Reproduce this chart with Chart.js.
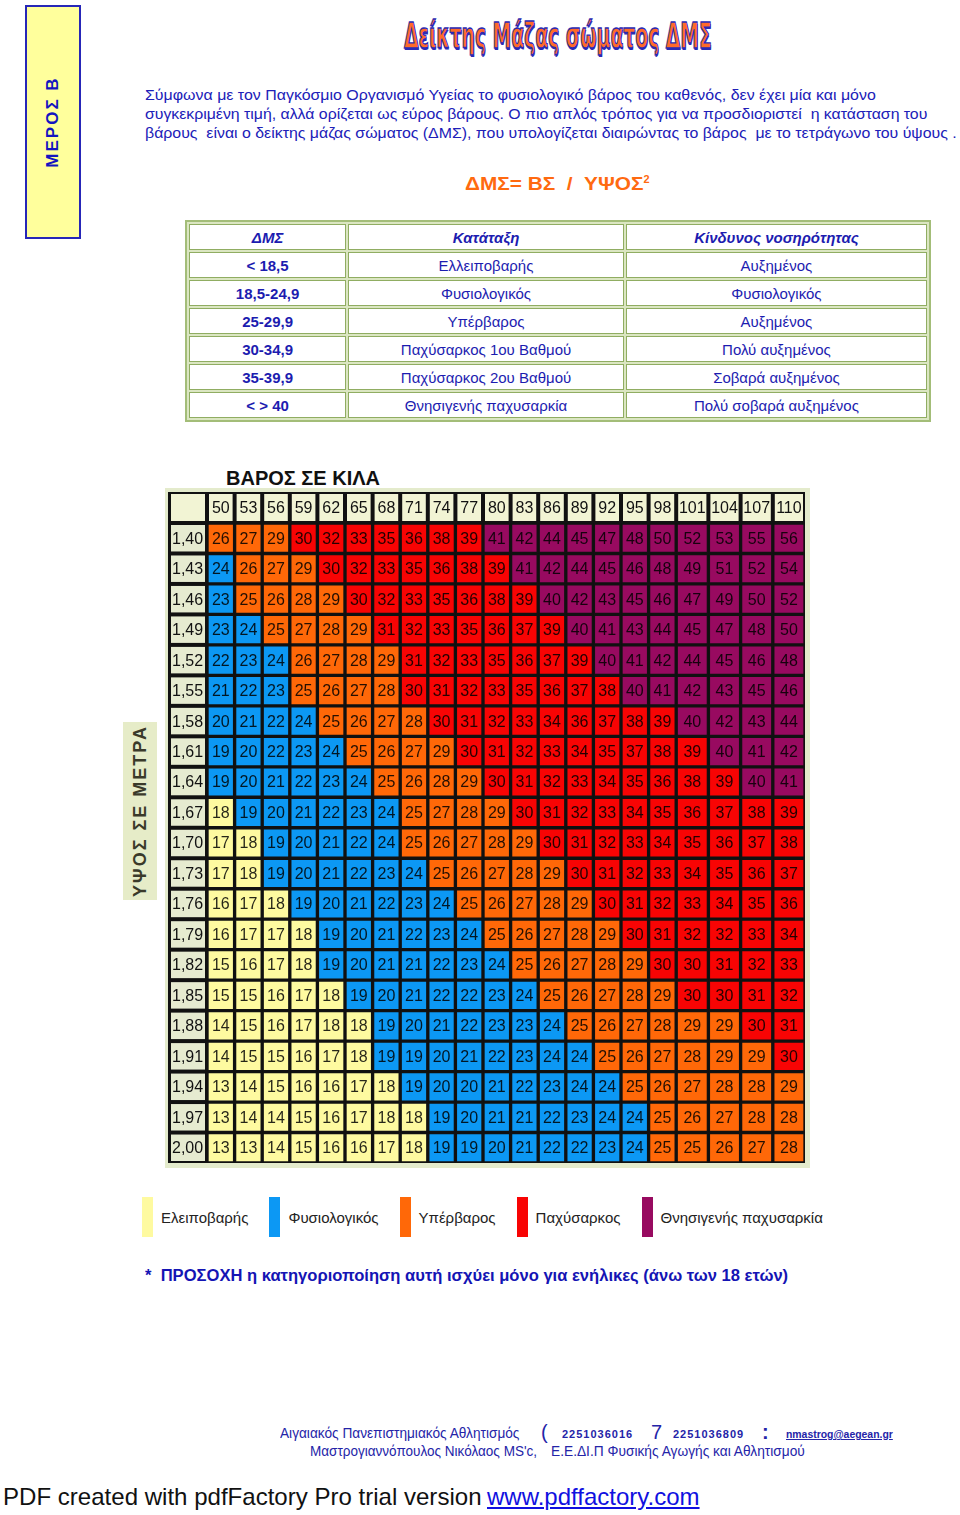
<!DOCTYPE html>
<html>
<head>
<meta charset="utf-8">
<script src="https://cdn.jsdelivr.net/npm/chart.js@4.4.0/dist/chart.umd.min.js"></script>
<style>
body{margin:0;width:960px;height:1515px;background:#fff;position:relative;overflow:hidden;font-family:"Liberation Sans",Arial,sans-serif;}
.abs{position:absolute;white-space:nowrap;}
.fit{display:inline-block;transform-origin:0 50%;}
#meros{left:25px;top:5px;width:52px;height:230px;background:#ffff9c;border:2px solid #2626b8;}
#meros span,#ypsos span{position:absolute;left:50%;top:50%;transform:translate(-50%,-50%) rotate(-90deg);font-weight:bold;white-space:nowrap;}
#meros span{color:#1414c0;font-size:17px;letter-spacing:2px;}
#ypsos{left:123px;top:722px;width:34px;height:178px;background:#e6ecc8;}
#ypsos span{color:#3a3a2a;font-size:18px;letter-spacing:2px;}
#title{left:404px;top:14px;font-family:"DejaVu Sans Condensed","DejaVu Sans",sans-serif;font-weight:bold;font-size:36px;line-height:44px;color:#ff6a2a;-webkit-text-stroke:1.3px #2a2ab4;text-shadow:1px 2px 0 #2a2ab4;}
.par{left:145px;font-size:15px;line-height:19px;color:#2020b8;}
#formula{left:465px;top:168px;font-size:19px;line-height:24px;font-weight:bold;color:#ff6a10;}
#formula sup{font-size:10px;}
#cls{position:absolute;left:185px;top:220px;width:746px;border-collapse:separate;border-spacing:2px;border:2px solid #a3bd78;background:#dbe6c2;}
#cls td,#cls th{background:#fff;border:1px solid #90ad62;height:24px;padding:0;text-align:center;color:#1c1cb0;font-size:15px;font-weight:normal;}
#cls th{font-style:italic;font-weight:bold;}
#cls td:first-child{font-weight:bold;}
#wtitle{left:226px;top:466px;font-size:20px;line-height:24px;font-weight:bold;color:#111;}
#grid{position:absolute;left:165px;top:488px;}
#legend{position:absolute;left:142px;top:1197px;display:flex;align-items:center;}
#legend .sw{width:11px;height:40px;margin-right:8px;}
#legend .lb{font-size:15px;color:#222;margin-right:21px;}
#note{left:145px;top:1266px;font-size:16px;line-height:20px;font-weight:bold;color:#1414b4;}
.ft{font-size:14px;line-height:18px;color:#2424a8;}
.ph{font-size:11px;font-weight:bold;letter-spacing:1px;color:#2424a8;line-height:18px;}
#pdf{left:3px;top:1483px;font-size:24px;line-height:28px;color:#111;}
#pdflink{left:487px;top:1483px;font-size:24px;line-height:28px;color:#1010e0;text-decoration:underline;}
</style>
</head>
<body>
<div id="meros" class="abs"><span>ΜΕΡΟΣ Β</span></div>
<div id="title" class="abs fit" data-w="308">Δείκτης Μάζας σώματος ΔΜΣ</div>
<div class="abs par fit" style="top:85px" data-w="731">Σύμφωνα με τον Παγκόσμιο Οργανισμό Υγείας το φυσιολογικό βάρος του καθενός, δεν έχει μία και μόνο</div>
<div class="abs par fit" style="top:104px" data-w="782">συγκεκριμένη τιμή, αλλά ορίζεται ως εύρος βάρους. Ο πιο απλός τρόπος για να προσδιοριστεί &nbsp;η κατάσταση του</div>
<div class="abs par fit" style="top:123px" data-w="812">βάρους &nbsp;είναι ο δείκτης μάζας σώματος (ΔΜΣ), που υπολογίζεται διαιρώντας το βάρος &nbsp;με το τετράγωνο του ύψους .</div>
<div id="formula" class="abs fit" data-w="185">ΔΜΣ= ΒΣ &nbsp;/ &nbsp;ΥΨΟΣ<sup>2</sup></div>
<table id="cls"></table>
<div id="wtitle" class="abs">ΒΑΡΟΣ ΣΕ ΚΙΛΑ</div>
<div id="ypsos" class="abs"><span>ΥΨΟΣ ΣΕ ΜΕΤΡΑ</span></div>
<canvas id="grid" width="645" height="680"></canvas>
<div id="legend"></div>
<div id="note" class="abs fit" data-w="643">* &nbsp;ΠΡΟΣΟΧΗ η κατηγοριοποίηση αυτή ισχύει μόνο για ενήλικες (άνω των 18 ετών)</div>
<div class="abs ft fit" style="left:280px;top:1424px" data-w="239">Αιγαιακός Πανεπιστημιακός Αθλητισμός</div>
<div class="abs ft" style="left:541px;top:1420px;font-size:20px;line-height:24px">(</div>
<div class="abs ph fit" style="left:562px;top:1425px" data-w="71">2251036016</div>
<div class="abs ft" style="left:651px;top:1420px;font-size:20px;line-height:24px">7</div>
<div class="abs ph fit" style="left:673px;top:1425px" data-w="71">2251036809</div>
<div class="abs ft" style="left:762px;top:1420px;font-size:20px;line-height:24px;font-weight:bold">:</div>
<div class="abs ph fit" style="left:786px;top:1425px;text-decoration:underline;letter-spacing:0" data-w="107">nmastrog@aegean.gr</div>
<div class="abs ft fit" style="left:310px;top:1442px" data-w="227">Μαστρογιαννόπουλος Νικόλαος MS'c,</div>
<div class="abs ft fit" style="left:551px;top:1442px" data-w="254">Ε.Ε.ΔΙ.Π Φυσικής Αγωγής και Αθλητισμού</div>
<div id="pdf" class="abs fit" data-w="479">PDF created with pdfFactory Pro trial version</div>
<div id="pdflink" class="abs fit" data-w="213">www.pdffactory.com</div>

<script>
// ---------- datos del cuadro de clasificación ----------
const bmiRanges = ['< 18,5', '18,5-24,9', '25-29,9', '30-34,9', '35-39,9', '< > 40'];
const bmiClasses = ['Ελλειποβαρής', 'Φυσιολογικός', 'Υπέρβαρος', 'Παχύσαρκος 1ου Βαθμού', 'Παχύσαρκος 2ου Βαθμού', 'Θνησιγενής παχυσαρκία'];
const bmiRisk = ['Αυξημένος', 'Φυσιολογικός', 'Αυξημένος', 'Πολύ αυξημένος', 'Σοβαρά αυξημένος', 'Πολύ σοβαρά αυξημένος'];

// ---------- datos de la tabla de colores ----------
const weights = ['50', '53', '56', '59', '62', '65', '68', '71', '74', '77', '80', '83', '86', '89', '92', '95', '98', '101', '104', '107', '110'];
const heights = ['1,40', '1,43', '1,46', '1,49', '1,52', '1,55', '1,58', '1,61', '1,64', '1,67', '1,70', '1,73', '1,76', '1,79', '1,82', '1,85', '1,88', '1,91', '1,94', '1,97', '2,00'];
const bmiRows = [
    [26, 27, 29, 30, 32, 33, 35, 36, 38, 39, 41, 42, 44, 45, 47, 48, 50, 52, 53, 55, 56],
    [24, 26, 27, 29, 30, 32, 33, 35, 36, 38, 39, 41, 42, 44, 45, 46, 48, 49, 51, 52, 54],
    [23, 25, 26, 28, 29, 30, 32, 33, 35, 36, 38, 39, 40, 42, 43, 45, 46, 47, 49, 50, 52],
    [23, 24, 25, 27, 28, 29, 31, 32, 33, 35, 36, 37, 39, 40, 41, 43, 44, 45, 47, 48, 50],
    [22, 23, 24, 26, 27, 28, 29, 31, 32, 33, 35, 36, 37, 39, 40, 41, 42, 44, 45, 46, 48],
    [21, 22, 23, 25, 26, 27, 28, 30, 31, 32, 33, 35, 36, 37, 38, 40, 41, 42, 43, 45, 46],
    [20, 21, 22, 24, 25, 26, 27, 28, 30, 31, 32, 33, 34, 36, 37, 38, 39, 40, 42, 43, 44],
    [19, 20, 22, 23, 24, 25, 26, 27, 29, 30, 31, 32, 33, 34, 35, 37, 38, 39, 40, 41, 42],
    [19, 20, 21, 22, 23, 24, 25, 26, 28, 29, 30, 31, 32, 33, 34, 35, 36, 38, 39, 40, 41],
    [18, 19, 20, 21, 22, 23, 24, 25, 27, 28, 29, 30, 31, 32, 33, 34, 35, 36, 37, 38, 39],
    [17, 18, 19, 20, 21, 22, 24, 25, 26, 27, 28, 29, 30, 31, 32, 33, 34, 35, 36, 37, 38],
    [17, 18, 19, 20, 21, 22, 23, 24, 25, 26, 27, 28, 29, 30, 31, 32, 33, 34, 35, 36, 37],
    [16, 17, 18, 19, 20, 21, 22, 23, 24, 25, 26, 27, 28, 29, 30, 31, 32, 33, 34, 35, 36],
    [16, 17, 17, 18, 19, 20, 21, 22, 23, 24, 25, 26, 27, 28, 29, 30, 31, 32, 32, 33, 34],
    [15, 16, 17, 18, 19, 20, 21, 21, 22, 23, 24, 25, 26, 27, 28, 29, 30, 30, 31, 32, 33],
    [15, 15, 16, 17, 18, 19, 20, 21, 22, 22, 23, 24, 25, 26, 27, 28, 29, 30, 30, 31, 32],
    [14, 15, 16, 17, 18, 18, 19, 20, 21, 22, 23, 23, 24, 25, 26, 27, 28, 29, 29, 30, 31],
    [14, 15, 15, 16, 17, 18, 19, 19, 20, 21, 22, 23, 24, 24, 25, 26, 27, 28, 29, 29, 30],
    [13, 14, 15, 16, 16, 17, 18, 19, 20, 20, 21, 22, 23, 24, 24, 25, 26, 27, 28, 28, 29],
    [13, 14, 14, 15, 16, 17, 18, 18, 19, 20, 21, 21, 22, 23, 24, 24, 25, 26, 27, 28, 28],
    [13, 13, 14, 15, 16, 16, 17, 18, 19, 19, 20, 21, 22, 22, 23, 24, 25, 25, 26, 27, 28]
];

// ---------- leyenda ----------
const legendLabels = ['Ελειποβαρής', 'Φυσιολογικός', 'Υπέρβαρος', 'Παχύσαρκος', 'Θνησιγενής παχυσαρκία'];
const catLimits = [18.5, 25, 30, 40];
const catColors = ['#fefaa0', '#0c98f4', '#ff6808', '#f80404', '#980a60'];

const colorOf = (v) => {
    let i = catLimits.findIndex(l => v < l);
    return catColors[i === -1 ? catColors.length - 1 : i];
};

//------------------------ cuadro HTML ---------------------------
const tabla = document.getElementById('cls');
tabla.innerHTML = '<colgroup><col style="width:160px"><col style="width:280px"><col style="width:306px"></colgroup>' +
    '<tr><th>ΔΜΣ</th><th>Κατάταξη</th><th>Κίνδυνος νοσηρότητας</th></tr>' +
    bmiRanges.map((r, i) => `<tr><td>${r}</td><td>${bmiClasses[i]}</td><td>${bmiRisk[i]}</td></tr>`).join('');

const leyenda = document.getElementById('legend');
legendLabels.forEach((lab, i) => {
    leyenda.innerHTML += `<div class="sw" style="background:${catColors[i]}"></div><div class="lb">${lab}</div>`;
});

//------------------------ celdas y cabeceras ---------------------------
const FRAME = '#e4ebcc';
const HEAD_X = '#f2f4d4';
const HEAD_Y = '#e6ebd0';
const FONT = '16px "Liberation Sans", Arial, sans-serif';

// ancho de columna como en una tabla html: según los dígitos de la cabecera
const colUnits = weights.map(w => w.length + 4);
const colStart = colUnits.map((u, j) => colUnits.slice(0, j).reduce((a, b) => a + b, 0));
const totalUnits = colUnits.reduce((a, b) => a + b, 0);

const marcoTabla = {
    id: 'marcoTabla',
    beforeDraw(chart) {
        const { ctx, chartArea, scales } = chart;
        const x = scales.x, y = scales.y;
        const rowH = (chartArea.bottom - chartArea.top) / heights.length;
        ctx.save();
        ctx.fillStyle = FRAME;
        ctx.fillRect(0, 0, chart.width, chart.height);
        ctx.fillStyle = '#111';
        ctx.fillRect(3, 4, chartArea.right - 3, chartArea.bottom - 4);
        // esquina vacía
        ctx.fillStyle = HEAD_X;
        ctx.fillRect(6, 6, chartArea.left - 8, chartArea.top - 8);
        ctx.font = FONT;
        ctx.textBaseline = 'middle';
        // fila de pesos
        ctx.textAlign = 'center';
        weights.forEach((w, j) => {
            const x0 = x.getPixelForValue(colStart[j]);
            const x1 = x.getPixelForValue(colStart[j] + colUnits[j]);
            ctx.fillStyle = HEAD_X;
            ctx.fillRect(x0 + 2, 6, x1 - x0 - 4, chartArea.top - 8);
            ctx.fillStyle = '#111';
            ctx.fillText(w, (x0 + x1) / 2, (6 + chartArea.top - 2) / 2 + 1, x1 - x0 - 5);
        });
        // columna de alturas
        ctx.textAlign = 'left';
        heights.forEach((h, i) => {
            const cy = y.getPixelForValue(i);
            ctx.fillStyle = HEAD_Y;
            ctx.fillRect(6, cy - rowH / 2 + 2, chartArea.left - 8, rowH - 4);
            ctx.fillStyle = '#111';
            ctx.fillText(h, 7, cy + 1);
        });
        ctx.restore();
    },
    afterDatasetsDraw(chart) {
        const { ctx } = chart;
        ctx.save();
        ctx.font = FONT;
        ctx.textAlign = 'center';
        ctx.textBaseline = 'middle';
        ctx.fillStyle = 'rgba(0,0,0,0.85)';
        weights.forEach((w, j) => {
            chart.getDatasetMeta(j).data.forEach((bar, i) => {
                ctx.fillText(bmiRows[i][j], (bar.x + bar.base) / 2, bar.y + 1);
            });
        });
        ctx.restore();
    }
};

let ctxGrid = document.getElementById('grid').getContext('2d');
let chartGrid = new Chart(ctxGrid, {
    type: 'bar',
    data: {
        labels: heights,
        datasets: weights.map((w, j) => ({
            label: w,
            data: heights.map(() => colUnits[j]),
            backgroundColor: bmiRows.map(row => colorOf(row[j])),
            borderColor: '#111',
            borderWidth: 2,
            borderSkipped: false,
            barPercentage: 1,
            categoryPercentage: 1,
            stack: 'bmi'
        }))
    },
    options: {
        indexAxis: 'y',
        responsive: false,
        animation: false,
        layout: { padding: { left: 42, right: 5, top: 35, bottom: 5 } },
        scales: {
            x: { display: false, stacked: true, min: 0, max: totalUnits },
            y: { display: false, stacked: true }
        },
        plugins: { legend: { display: false }, tooltip: { enabled: false } }
    },
    plugins: [marcoTabla]
});

// ajustar anchos de los textos al original
document.querySelectorAll('.fit').forEach(el => {
    const w = el.offsetWidth;
    el.style.transform = `scaleX(${el.dataset.w / w})`;
});
</script>
</body>
</html>
